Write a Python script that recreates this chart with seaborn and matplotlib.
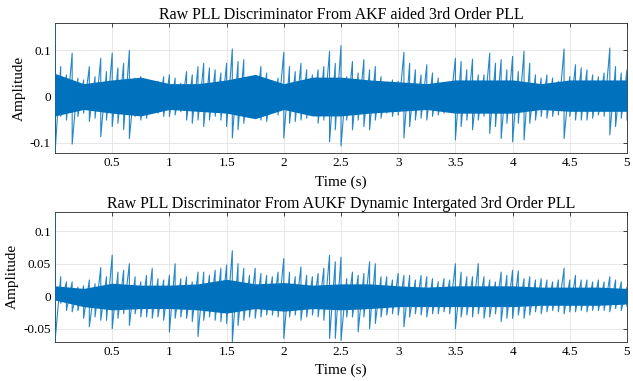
import numpy as np
import pandas as pd
import matplotlib
matplotlib.use("Agg")
import matplotlib.pyplot as plt
import seaborn as sns

# ---------------- data ----------------
t_env = [round(0.05 * i, 2) for i in range(101)]

akf_hi = [0.158, 0.065, 0.047, 0.094, 0.040, 0.036, 0.065, 0.043, 0.083, 0.054,
          0.094, 0.062, 0.072, 0.100, 0.040, 0.043, 0.036, 0.025, 0.033, 0.043,
          0.047, 0.040, 0.029, 0.054, 0.047, 0.065, 0.072, 0.062, 0.058, 0.051,
          0.072, 0.103, 0.076, 0.080, 0.040, 0.029, 0.065, 0.051, 0.033, 0.040,
          0.096, 0.065, 0.054, 0.072, 0.058, 0.047, 0.058, 0.065, 0.098, 0.072,
          0.110, 0.043, 0.076, 0.051, 0.080, 0.058, 0.065, 0.043, 0.029, 0.036,
          0.033, 0.096, 0.072, 0.058, 0.047, 0.069, 0.051, 0.040, 0.029, 0.025,
          0.083, 0.076, 0.058, 0.081, 0.047, 0.047, 0.094, 0.072, 0.080, 0.058,
          0.087, 0.054, 0.098, 0.072, 0.047, 0.040, 0.047, 0.040, 0.033, 0.103,
          0.043, 0.069, 0.062, 0.058, 0.047, 0.043, 0.051, 0.105, 0.065, 0.051,
          0.058]
akf_lo = [-0.123, -0.043, -0.051, -0.103, -0.043, -0.036, -0.054, -0.047, -0.087, -0.051,
          -0.065, -0.058, -0.072, -0.091, -0.043, -0.051, -0.047, -0.033, -0.036, -0.043,
          -0.043, -0.040, -0.033, -0.051, -0.058, -0.051, -0.065, -0.051, -0.043, -0.051,
          -0.065, -0.090, -0.072, -0.058, -0.036, -0.040, -0.051, -0.054, -0.033, -0.040,
          -0.090, -0.058, -0.054, -0.051, -0.047, -0.040, -0.058, -0.051, -0.098, -0.072,
          -0.107, -0.051, -0.072, -0.051, -0.065, -0.072, -0.051, -0.047, -0.036, -0.043,
          -0.040, -0.090, -0.065, -0.051, -0.047, -0.051, -0.043, -0.040, -0.036, -0.033,
          -0.094, -0.065, -0.051, -0.072, -0.051, -0.043, -0.080, -0.065, -0.091, -0.058,
          -0.098, -0.058, -0.094, -0.058, -0.051, -0.043, -0.047, -0.043, -0.040, -0.091,
          -0.043, -0.051, -0.051, -0.051, -0.047, -0.040, -0.043, -0.083, -0.065, -0.047,
          -0.051]

aukf_hi = [0.130, 0.030, 0.022, 0.022, 0.014, 0.016, 0.025, 0.019, 0.044, 0.030,
           0.063, 0.037, 0.040, 0.050, 0.030, 0.022, 0.032, 0.043, 0.027, 0.025,
           0.032, 0.050, 0.027, 0.030, 0.022, 0.037, 0.037, 0.032, 0.040, 0.043,
           0.048, 0.070, 0.050, 0.043, 0.032, 0.043, 0.035, 0.032, 0.030, 0.037,
           0.058, 0.037, 0.030, 0.045, 0.032, 0.030, 0.035, 0.043, 0.063, 0.053,
           0.060, 0.027, 0.037, 0.032, 0.035, 0.053, 0.050, 0.030, 0.030, 0.025,
           0.035, 0.032, 0.032, 0.025, 0.032, 0.030, 0.027, 0.022, 0.027, 0.025,
           0.050, 0.037, 0.030, 0.030, 0.050, 0.030, 0.025, 0.022, 0.037, 0.032,
           0.040, 0.039, 0.027, 0.030, 0.025, 0.027, 0.025, 0.022, 0.025, 0.043,
           0.025, 0.032, 0.025, 0.025, 0.022, 0.025, 0.022, 0.030, 0.025, 0.022,
           0.014]
aukf_lo = [-0.070, -0.011, -0.022, -0.024, -0.022, -0.034, -0.047, -0.032, -0.037, -0.037,
           -0.050, -0.034, -0.027, -0.045, -0.027, -0.032, -0.032, -0.034, -0.032, -0.037,
           -0.055, -0.034, -0.032, -0.034, -0.039, -0.062, -0.037, -0.032, -0.037, -0.039,
           -0.042, -0.070, -0.045, -0.037, -0.032, -0.034, -0.032, -0.029, -0.029, -0.032,
           -0.065, -0.032, -0.029, -0.037, -0.032, -0.029, -0.032, -0.037, -0.065, -0.065,
           -0.068, -0.032, -0.032, -0.055, -0.032, -0.050, -0.042, -0.032, -0.029, -0.027,
           -0.029, -0.047, -0.032, -0.027, -0.029, -0.032, -0.027, -0.027, -0.024, -0.027,
           -0.050, -0.032, -0.029, -0.032, -0.027, -0.034, -0.032, -0.027, -0.039, -0.034,
           -0.034, -0.029, -0.034, -0.029, -0.024, -0.027, -0.024, -0.022, -0.024, -0.027,
           -0.024, -0.024, -0.022, -0.024, -0.022, -0.022, -0.022, -0.024, -0.019, -0.022,
           -0.016]

t_core = [round(0.25 * i, 2) for i in range(21)]
akf_core_hi = [0.050, 0.028, 0.036, 0.042, 0.028, 0.028, 0.036, 0.048, 0.028, 0.042,
               0.042, 0.036, 0.032, 0.028, 0.036, 0.036, 0.036, 0.028, 0.036, 0.036, 0.036]
akf_core_lo = [-0.042, -0.028, -0.036, -0.042, -0.028, -0.032, -0.036, -0.048, -0.028, -0.042,
               -0.042, -0.036, -0.032, -0.028, -0.036, -0.036, -0.036, -0.028, -0.032, -0.032, -0.032]
aukf_core_hi = [0.016, 0.012, 0.020, 0.017, 0.017, 0.019, 0.026, 0.019, 0.021, 0.017,
                0.019, 0.019, 0.016, 0.014, 0.016, 0.016, 0.016, 0.014, 0.014, 0.014, 0.012]
aukf_core_lo = [-0.006, -0.016, -0.021, -0.019, -0.019, -0.021, -0.026, -0.019, -0.023, -0.019,
                -0.021, -0.019, -0.016, -0.016, -0.016, -0.016, -0.016, -0.014, -0.014, -0.014, -0.012]

titles = ["Raw PLL Discriminator From AKF aided 3rd Order PLL",
          "Raw PLL Discriminator From AUKF Dynamic Intergated 3rd Order PLL"]
x_ticks = [0.5, 1, 1.5, 2, 2.5, 3, 3.5, 4, 4.5, 5]
x_tick_labels = ["0.5", "1", "1.5", "2", "2.5", "3", "3.5", "4", "4.5", "5"]
y_ticks_top = [-0.1, 0, 0.1]
y_tick_labels_top = ["-0.1", "0", "0.1"]
y_ticks_bot = [-0.05, 0, 0.05, 0.1]
y_tick_labels_bot = ["-0.05", "0", "0.05", "0.1"]
ylim_top = (-0.123, 0.16)
ylim_bot = (-0.07, 0.13)

# ---------------- style ----------------
sns.set_theme(style="white")
plt.rcParams['font.family'] = ['Liberation Serif', 'DejaVu Serif']
BLUE = "#0072BD"

fig = plt.figure(figsize=(6.33, 3.81), dpi=100)
ax1 = fig.add_axes([0.0869, 0.5976, 0.9036, 0.3428])
ax2 = fig.add_axes([0.0869, 0.1031, 0.9036, 0.3413])


def trace_frame(hi, lo):
    xs, ys = [], []
    for t, h, l in zip(t_env, hi, lo):
        xs += [t, t]
        ys += [h, l]
    return pd.DataFrame({"t": xs, "v": ys})


def draw(ax, hi, lo, chi, clo, title, ylim, yt, ytl):
    ax.fill_between(t_core, clo, chi, color=BLUE, lw=0, zorder=3)
    df = trace_frame(hi, lo)
    sns.lineplot(data=df, x="t", y="v", ax=ax, estimator=None, sort=False,
                 color=BLUE, lw=0.8, alpha=0.85, zorder=4)
    ax.set_xlim(0, 5)
    ax.set_ylim(*ylim)
    ax.set_xticks(x_ticks)
    ax.set_xticklabels(x_tick_labels)
    ax.set_yticks(yt)
    ax.set_yticklabels(ytl)
    ax.grid(True, color="#e3e3e3", lw=0.6, zorder=0)
    ax.set_axisbelow(True)
    for s in ax.spines.values():
        s.set_visible(True)
        s.set_color("#262626")
        s.set_linewidth(0.6)
    ax.tick_params(direction="in", length=3, width=0.6, color="#262626",
                   top=True, right=True, labelsize=9.5, pad=3, labelcolor="black")
    ax.set_title(title, fontsize=11.5, pad=2.5, color="black")
    ax.set_xlabel("Time (s)", fontsize=11, labelpad=4, color="black")
    ax.set_ylabel("Amplitude", fontsize=11, labelpad=3, color="black")


draw(ax1, akf_hi, akf_lo, akf_core_hi, akf_core_lo, titles[0], ylim_top,
     y_ticks_top, y_tick_labels_top)
draw(ax2, aukf_hi, aukf_lo, aukf_core_hi, aukf_core_lo, titles[1], ylim_bot,
     y_ticks_bot, y_tick_labels_bot)

fig.savefig("out.png", dpi=100)
